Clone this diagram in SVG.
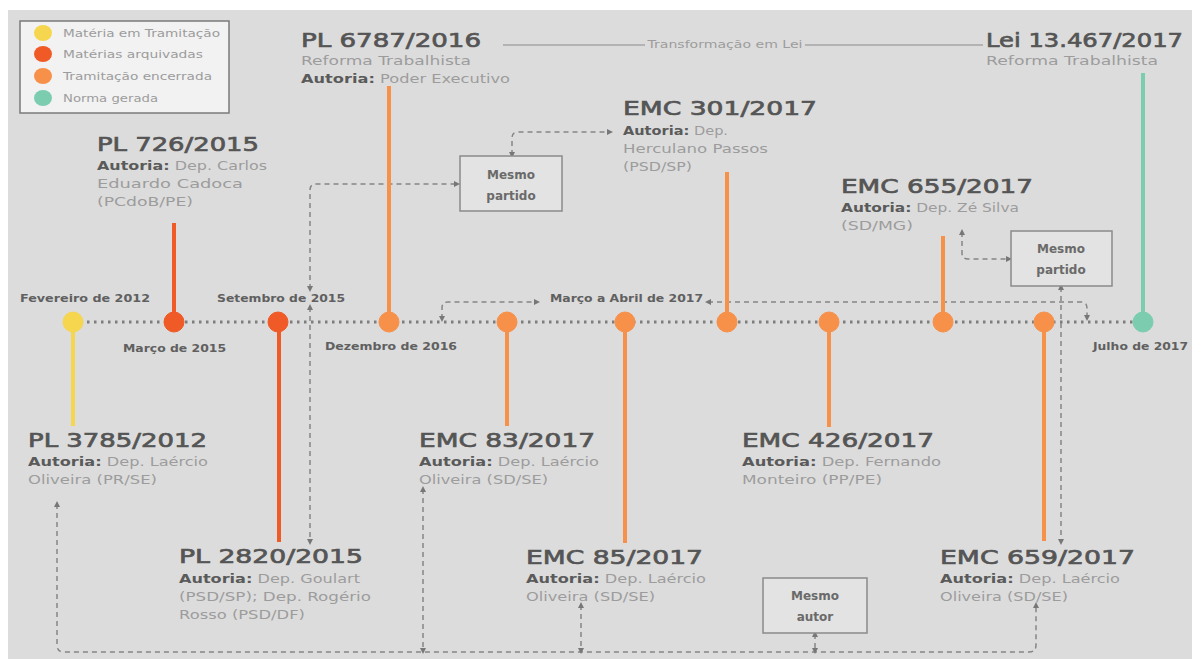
<svg xmlns="http://www.w3.org/2000/svg" width="1192" height="659" viewBox="0 0 1192 659">
<style>
text{font-family:"DejaVu Sans","Liberation Sans",sans-serif}
.h{font-size:20px;font-weight:normal;fill:#555555;stroke:#555555;stroke-width:0.7}
.s{font-size:13px;fill:#9c9c9c}
.b{font-weight:bold;fill:#5a5a5a}
.d{font-size:11px;font-weight:bold;fill:#606060}
.lg{font-size:11px;fill:#9c9c9c}
.bx{fill:#e3e3e3;stroke:#8a8a8a;stroke-width:1.5}
.bt{font-size:12px;font-weight:bold;fill:#6a6a6a;text-anchor:middle}
.dash{fill:none;stroke:#858585;stroke-width:1.5;stroke-dasharray:5 4;marker-start:url(#a);marker-end:url(#a)}
.tl{stroke:#7d7d7d;stroke-width:3;stroke-dasharray:2.5 4.5;fill:none}
.st{stroke-width:4;fill:none}
.y{stroke:#f6d64e;fill:#f6d64e}
.r{stroke:#f05a26;fill:#f05a26}
.o{stroke:#f7914a;fill:#f7914a}
.t{stroke:#7ccdb0;fill:#7ccdb0}
</style>
<defs>
<marker id="a" viewBox="0 0 6 6" refX="3" refY="3" markerWidth="4" markerHeight="4" orient="auto-start-reverse"><path d="M0,0 L6,3 L0,6 z" fill="#777"/></marker>
</defs>
<rect x="0" y="0" width="1192" height="659" fill="#ffffff"/>
<rect x="8" y="10" width="1184" height="649" fill="#dcdcdc"/>

<g id="legend">
<rect x="20" y="21" width="209" height="92" fill="#f2f2f2" stroke="#7a7a7a" stroke-width="1.5"/>
<ellipse cx="43" cy="33" rx="9" ry="8" fill="#f6d64e"/>
<ellipse cx="43" cy="54" rx="9" ry="8" fill="#f05a26"/>
<ellipse cx="43" cy="76" rx="9" ry="8" fill="#f7914a"/>
<ellipse cx="43" cy="98" rx="9" ry="8" fill="#7ccdb0"/>
<text class="lg" x="63" y="37" textLength="157" lengthAdjust="spacingAndGlyphs">Matéria em Tramitação</text>
<text class="lg" x="63" y="58" textLength="140" lengthAdjust="spacingAndGlyphs">Matérias  arquivadas</text>
<text class="lg" x="63" y="80" textLength="149" lengthAdjust="spacingAndGlyphs">Tramitação encerrada</text>
<text class="lg" x="63" y="102" textLength="95" lengthAdjust="spacingAndGlyphs">Norma gerada</text>
</g>

<g id="connectors">
<path d="M503,45 H645 M805,45 H983" stroke="#8a8a8a" stroke-width="1.2" fill="none"/>
<text x="725" y="48" font-size="10" fill="#9c9c9c" text-anchor="middle" textLength="155" lengthAdjust="spacingAndGlyphs">Transformação em Lei</text>
<line class="tl" x1="73" y1="322" x2="1143" y2="322"/>
<path class="dash" d="M310,289 V190 Q310,184 316,184 H457"/>
<path class="dash" d="M310,307 V542"/>
<path class="dash" d="M512,155 V138 Q512,132 518,132 H610"/>
<path class="dash" d="M442,319 V308 Q442,302 448,302 H537"/>
<path class="dash" d="M708,302 H1081 Q1087,302 1087,308 V318"/>
<path class="dash" d="M962,232 V253 Q962,259 968,259 H1009"/>
<path class="dash" d="M1061,287 V542"/>
<path class="dash" d="M57,504 V645 Q57,652 64,652 H1029 Q1036,652 1036,645 V605"/>
<path class="dash" d="M423,489 V651"/>
<path class="dash" d="M581,605 V651"/>
<path class="dash" d="M815,634 V651"/>
</g>

<g id="dates">
<text class="d" x="20" y="302" textLength="130" lengthAdjust="spacingAndGlyphs">Fevereiro de 2012</text>
<text class="d" x="123" y="352" textLength="103" lengthAdjust="spacingAndGlyphs">Março de 2015</text>
<text class="d" x="217" y="302" textLength="128" lengthAdjust="spacingAndGlyphs">Setembro de 2015</text>
<text class="d" x="325" y="350" textLength="132" lengthAdjust="spacingAndGlyphs">Dezembro de 2016</text>
<text class="d" x="550" y="302" textLength="153" lengthAdjust="spacingAndGlyphs">Março a Abril de 2017</text>
<text class="d" x="1093" y="350" textLength="95" lengthAdjust="spacingAndGlyphs">Julho de 2017</text>
</g>

<g id="pl3785">
<line class="st y" x1="73" y1="322" x2="73" y2="426"/>
<circle class="y" cx="73" cy="322" r="10"/>
<text class="h" x="28" y="447" textLength="179" lengthAdjust="spacingAndGlyphs">PL 3785/2012</text>
<text class="s" x="28" y="466" textLength="180" lengthAdjust="spacingAndGlyphs"><tspan class="b">Autoria:</tspan> Dep. Laércio</text>
<text class="s" x="28" y="484" textLength="129" lengthAdjust="spacingAndGlyphs">Oliveira (PR/SE)</text>
</g>

<g id="pl726">
<line class="st r" x1="174" y1="223" x2="174" y2="322"/>
<circle class="r" cx="174" cy="322" r="10"/>
<text class="h" x="97" y="151" textLength="162" lengthAdjust="spacingAndGlyphs">PL 726/2015</text>
<text class="s" x="97" y="170" textLength="170" lengthAdjust="spacingAndGlyphs"><tspan class="b">Autoria:</tspan> Dep. Carlos</text>
<text class="s" x="97" y="188" textLength="146" lengthAdjust="spacingAndGlyphs">Eduardo Cadoca</text>
<text class="s" x="97" y="206" textLength="96" lengthAdjust="spacingAndGlyphs">(PCdoB/PE)</text>
</g>

<g id="pl2820">
<line class="st r" x1="279" y1="322" x2="279" y2="542"/>
<circle class="r" cx="278" cy="322" r="10"/>
<text class="h" x="179" y="563" textLength="184" lengthAdjust="spacingAndGlyphs">PL 2820/2015</text>
<text class="s" x="179" y="583" textLength="181" lengthAdjust="spacingAndGlyphs"><tspan class="b">Autoria:</tspan> Dep. Goulart</text>
<text class="s" x="179" y="601" textLength="192" lengthAdjust="spacingAndGlyphs">(PSD/SP); Dep. Rogério</text>
<text class="s" x="179" y="619" textLength="126" lengthAdjust="spacingAndGlyphs">Rosso (PSD/DF)</text>
</g>

<g id="pl6787">
<line class="st o" x1="389" y1="86" x2="389" y2="322"/>
<circle class="o" cx="389" cy="322" r="10"/>
<text class="h" x="301" y="47" textLength="180" lengthAdjust="spacingAndGlyphs">PL 6787/2016</text>
<text class="s" x="301" y="65" textLength="170" lengthAdjust="spacingAndGlyphs">Reforma Trabalhista</text>
<text class="s" x="301" y="83" textLength="209" lengthAdjust="spacingAndGlyphs"><tspan class="b">Autoria:</tspan> Poder Executivo</text>
</g>

<g id="mesmo-partido-1">
<rect class="bx" x="460" y="156" width="102" height="55"/>
<text class="bt" x="511" y="179">Mesmo</text>
<text class="bt" x="511" y="200">partido</text>
</g>

<g id="emc83">
<line class="st o" x1="507" y1="322" x2="507" y2="426"/>
<circle class="o" cx="507" cy="322" r="10"/>
<text class="h" x="419" y="447" textLength="176" lengthAdjust="spacingAndGlyphs">EMC 83/2017</text>
<text class="s" x="419" y="466" textLength="180" lengthAdjust="spacingAndGlyphs"><tspan class="b">Autoria:</tspan> Dep. Laércio</text>
<text class="s" x="419" y="484" textLength="129" lengthAdjust="spacingAndGlyphs">Oliveira (SD/SE)</text>
</g>

<g id="emc85">
<line class="st o" x1="625" y1="322" x2="625" y2="543"/>
<circle class="o" cx="625" cy="322" r="10"/>
<text class="h" x="526" y="564" textLength="177" lengthAdjust="spacingAndGlyphs">EMC 85/2017</text>
<text class="s" x="526" y="583" textLength="180" lengthAdjust="spacingAndGlyphs"><tspan class="b">Autoria:</tspan> Dep. Laércio</text>
<text class="s" x="526" y="601" textLength="129" lengthAdjust="spacingAndGlyphs">Oliveira (SD/SE)</text>
</g>

<g id="emc301">
<line class="st o" x1="727" y1="172" x2="727" y2="322"/>
<circle class="o" cx="727" cy="322" r="10"/>
<text class="h" x="623" y="115" textLength="194" lengthAdjust="spacingAndGlyphs">EMC 301/2017</text>
<text class="s" x="623" y="135" textLength="105" lengthAdjust="spacingAndGlyphs"><tspan class="b">Autoria:</tspan> Dep.</text>
<text class="s" x="623" y="153" textLength="145" lengthAdjust="spacingAndGlyphs">Herculano Passos</text>
<text class="s" x="623" y="171" textLength="69" lengthAdjust="spacingAndGlyphs">(PSD/SP)</text>
</g>

<g id="emc426">
<line class="st o" x1="829" y1="322" x2="829" y2="427"/>
<circle class="o" cx="829" cy="322" r="10"/>
<text class="h" x="742" y="447" textLength="192" lengthAdjust="spacingAndGlyphs">EMC 426/2017</text>
<text class="s" x="742" y="466" textLength="199" lengthAdjust="spacingAndGlyphs"><tspan class="b">Autoria:</tspan> Dep. Fernando</text>
<text class="s" x="742" y="484" textLength="140" lengthAdjust="spacingAndGlyphs">Monteiro (PP/PE)</text>
</g>

<g id="mesmo-autor">
<rect class="bx" x="763" y="578" width="104" height="55"/>
<text class="bt" x="815" y="600">Mesmo</text>
<text class="bt" x="815" y="621">autor</text>
</g>

<g id="emc655">
<line class="st o" x1="943" y1="236" x2="943" y2="322"/>
<circle class="o" cx="943" cy="322" r="10"/>
<text class="h" x="841" y="193" textLength="192" lengthAdjust="spacingAndGlyphs">EMC 655/2017</text>
<text class="s" x="841" y="212" textLength="178" lengthAdjust="spacingAndGlyphs"><tspan class="b">Autoria:</tspan> Dep. Zé Silva</text>
<text class="s" x="841" y="230" textLength="72" lengthAdjust="spacingAndGlyphs">(SD/MG)</text>
</g>

<g id="mesmo-partido-2">
<rect class="bx" x="1011" y="231" width="101" height="55"/>
<text class="bt" x="1061" y="253">Mesmo</text>
<text class="bt" x="1061" y="274">partido</text>
</g>

<g id="emc659">
<line class="st o" x1="1044" y1="322" x2="1044" y2="541"/>
<circle class="o" cx="1044" cy="322" r="10"/>
<text class="h" x="940" y="564" textLength="195" lengthAdjust="spacingAndGlyphs">EMC 659/2017</text>
<text class="s" x="940" y="583" textLength="180" lengthAdjust="spacingAndGlyphs"><tspan class="b">Autoria:</tspan> Dep. Laércio</text>
<text class="s" x="940" y="601" textLength="128" lengthAdjust="spacingAndGlyphs">Oliveira (SD/SE)</text>
</g>

<g id="lei13467">
<line class="st t" x1="1143" y1="73" x2="1143" y2="322"/>
<circle class="t" cx="1143" cy="322" r="10"/>
<text class="h" x="986" y="47" textLength="197" lengthAdjust="spacingAndGlyphs">Lei 13.467/2017</text>
<text class="s" x="986" y="65" textLength="172" lengthAdjust="spacingAndGlyphs">Reforma Trabalhista</text>
</g>
</svg>
